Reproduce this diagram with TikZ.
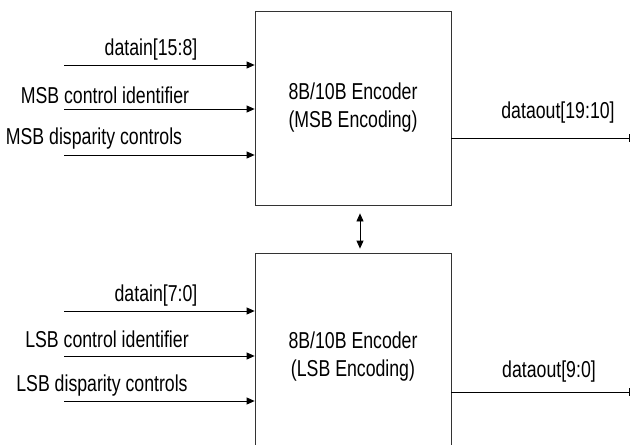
\documentclass[tikz,border=0pt]{standalone}
\usepackage{fontspec}
\setmainfont[FakeStretch=0.77]{Liberation Sans}
\usepackage{tikz}
\usetikzlibrary{arrows.meta}
\tikzstyle{encoder}=[draw=black!80, line width=0.8pt, minimum width=196pt, inner sep=0pt, align=center, font=\fontsize{23}{28}\selectfont]
\tikzstyle{sig}=[inner sep=0pt, font=\fontsize{23}{26}\selectfont]
\tikzstyle{arrow}=[draw=black, line width=0.8pt, >={Triangle[length=8pt, width=7pt]}]
\tikzstyle{outarrow}=[draw=black, line width=0.8pt]

\begin{document}
\begin{tikzpicture}[x=1pt, y=-1pt]
		   \useasboundingbox (0, 0) rectangle (631, 444);
		   \clip (0, 0) rectangle (631, 444);
		   \begin{scope}
			   \node (msb) at (353, 108)[encoder, minimum height=194pt] {8B/10B Encoder\\(MSB Encoding)};
			   \node (lsb) at (353, 357)[encoder, minimum height=208pt] {8B/10B Encoder\\(LSB Encoding)};
		   \end{scope}
		   \begin{scope}
			   \coordinate (min1) at (64, 65);
			   \coordinate (min2) at (64, 109);
			   \coordinate (min3) at (64, 155);
			   \coordinate (lin1) at (64, 311);
			   \coordinate (lin2) at (64, 356);
			   \coordinate (lin3) at (64, 401);
			   \coordinate (mout) at (630, 138);
			   \coordinate (lout) at (630, 392);
			   \coordinate (link) at (360, 0);
		   \end{scope}
		   \begin{scope}
			   \node (mlab1) at (151, 50)[sig] {datain[15:8]};
			   \node (mlab2) at (105, 95)[sig] {MSB control identifier};
			   \node (mlab3) at (94, 139)[sig] {MSB disparity controls};
			   \node (llab1) at (156, 296)[sig] {datain[7:0]};
			   \node (llab2) at (107, 339)[sig] {LSB control identifier};
			   \node (llab3) at (102, 386)[sig] {LSB disparity controls};
			   \node (moutlab) at (558, 113)[sig] {dataout[19:10]};
			   \node (loutlab) at (549, 372)[sig] {dataout[9:0]};
		   \end{scope}
		   \begin{scope}
			   \path [arrow] (min1) edge [->] (min1 -| msb.west);
			   \path [arrow] (min2) edge [->] (min2 -| msb.west);
			   \path [arrow] (min3) edge [->] (min3 -| msb.west);
			   \path [arrow] (lin1) edge [->] (lin1 -| lsb.west);
			   \path [arrow] (lin2) edge [->] (lin2 -| lsb.west);
			   \path [arrow] (lin3) edge [->] (lin3 -| lsb.west);
			   \path [arrow] (link |- msb.south) edge [<->, shorten <=8pt, shorten >=4pt] (link |- lsb.north);
			   \path [outarrow] (mout -| msb.east) edge [-{Bar[width=8pt]}] (mout);
			   \path [outarrow] (lout -| lsb.east) edge [-{Bar[width=8pt]}] (lout);
		   \end{scope}
	   \end{tikzpicture}
\end{document}
